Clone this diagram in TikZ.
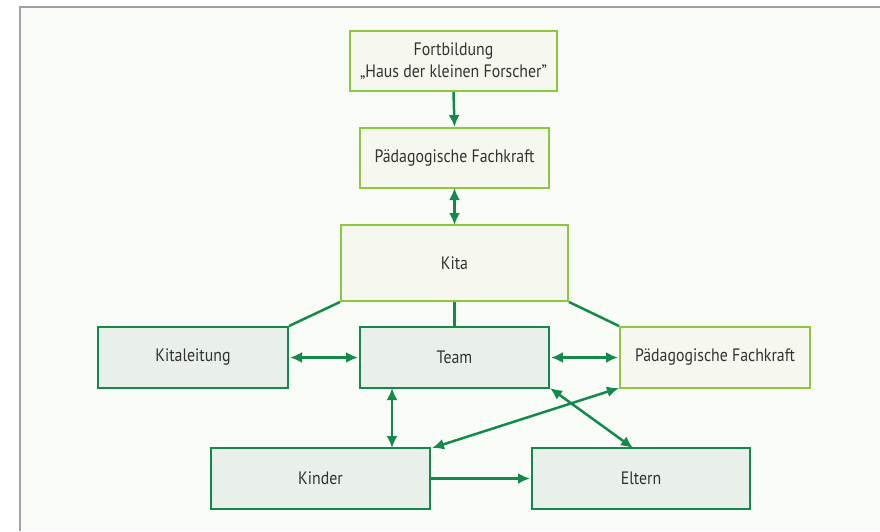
\documentclass[tikz,border=0pt]{standalone}
\usepackage{fontspec}
\setmainfont{PT Sans}[FakeStretch=0.88]
\usetikzlibrary{arrows.meta}
\definecolor{dkgreen}{HTML}{138A4C}
\definecolor{ltgreen}{HTML}{8DC63F}
\definecolor{dkfill}{HTML}{E9F0EA}
\definecolor{ltfill}{HTML}{F6F8EF}
\definecolor{bgfill}{HTML}{F9FBF6}
\definecolor{framegray}{HTML}{A0A0A0}
\definecolor{txt}{HTML}{333333}
\tikzset{
  lightbox/.style={draw=ltgreen, fill=ltfill, line width=2pt, text=txt, align=center, inner sep=0pt},
  darkbox/.style={draw=dkgreen, fill=dkfill, line width=2pt, text=txt, align=center, inner sep=0pt},
  conn/.style={draw=dkgreen, line width=2.5pt},
  arr/.style={conn, -{Latex[length=12pt,width=11pt]}},
  darr/.style={conn, {Latex[length=12pt,width=11pt]}-{Latex[length=12pt,width=11pt]}},
}
\begin{document}
\begin{tikzpicture}[x=1pt, y=-1pt, font=\fontsize{18}{22}\selectfont]
\useasboundingbox (0,0) rectangle (880,531);
\fill[white] (0,0) rectangle (880,531);
\fill[bgfill] (20,7) rectangle (880,531);
\draw[framegray, line width=2pt] (20,531) -- (20,7) -- (880,7);

\node[lightbox, minimum width=207pt, minimum height=60pt] (fort) at (453.5,61) {Fortbildung\\„Haus der kleinen Forscher”};
\node[lightbox, minimum width=189pt, minimum height=60pt] (pf1) at (454.5,158) {Pädagogische Fachkraft};
\node[lightbox, minimum width=227pt, minimum height=76pt] (kita) at (454.5,263) {Kita};
\node[darkbox, minimum width=190pt, minimum height=61pt] (leit) at (193,357.5) {Kitaleitung};
\node[darkbox, minimum width=189pt, minimum height=61pt] (team) at (454.5,357.5) {Team};
\node[lightbox, minimum width=190pt, minimum height=61pt] (pf2) at (715,357.5) {Pädagogische Fachkraft};
\node[darkbox, minimum width=219pt, minimum height=61pt] (kind) at (320.5,478.5) {Kinder};
\node[darkbox, minimum width=218pt, minimum height=61pt] (elt) at (641,478.5) {Eltern};

\draw[arr] (fort.south) -- (pf1.north);
\draw[darr] ([yshift=1pt]pf1.south) -- ([yshift=-1pt]kita.north);
\draw[conn] (kita.south west) -- (leit.north east);
\draw[conn] (kita.south) -- (team.north);
\draw[conn] (kita.south east) -- (pf2.north west);
\draw[darr] ([xshift=1pt]leit.east) -- ([xshift=-1pt]team.west);
\draw[darr] ([xshift=1pt]team.east) -- ([xshift=-1pt]pf2.west);
\draw[darr] ([xshift=-62.5pt,yshift=1pt]team.south) -- ([xshift=-62.5pt,yshift=-1pt]team.south |- kind.north);
\draw[arr] (kind.east) -- ([xshift=-1pt]elt.west);
\draw[darr] ([yshift=1pt]pf2.south west) -- ([xshift=1pt,yshift=-1pt]kind.north east);
\draw[darr] ([yshift=1pt]team.south east) -- ([xshift=-8pt,yshift=-1pt]elt.north);
\end{tikzpicture}
\end{document}
